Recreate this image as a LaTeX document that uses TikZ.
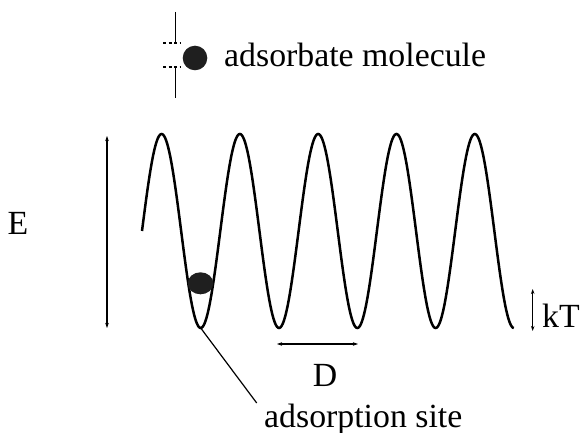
\documentclass[tikz,border=0pt]{standalone}
\usepackage{fontspec}
\setmainfont{Liberation Serif}
\usetikzlibrary{arrows.meta}
\begin{document}
\begin{tikzpicture}[x=1pt,y=-1pt,
  lbl/.style={font=\fontsize{33.8}{38}\selectfont, inner sep=0pt},
  dim/.style={line width=1.2pt, {Stealth[length=5pt,width=3.5pt]}-{Stealth[length=5pt,width=3.5pt]}},
  wave/.style={line width=2.5pt},
  ball/.style={fill=black!88}]
\useasboundingbox (0,0) rectangle (582,433);
% legend symbol
\coordinate (ut) at (175.7,12);
\coordinate (ub) at (175.7,43);
\coordinate (lt) at (175.7,67);
\coordinate (lb) at (175.7,98);
\draw[line width=1.2pt] (ut) -- (ub);
\draw[line width=1.2pt] (lt) -- (lb);
\draw[line width=1.2pt, dash pattern=on 3pt off 2.5pt] (163,43) -- (181,43);
\draw[line width=1.2pt, dash pattern=on 3pt off 2.5pt] (163,67) -- (181,67);
\fill[ball] (195,58) circle (12.3);
\node[lbl, anchor=base west] (mol) at (224,66.7) {adsorbate molecule};
% potential
\draw[wave] plot[domain=0:4.75, samples=400, smooth] ({142+78.3*\x}, {231 - 97*sin(360*\x)});
\fill[ball] (200.5,283.3) ellipse (12.8 and 11);
% site leader
\coordinate (trough) at (200.7,328);
\node[lbl, anchor=base west] (site) at (264,427) {adsorption site};
\coordinate (leadend) at (256.7,403);
\draw[line width=1.2pt] (trough) -- (leadend);
% E
\coordinate (Et) at (107,136);
\coordinate (Eb) at (107,328);
\draw[dim] (Et) -- (Eb);
\node[lbl, anchor=base east] (E) at (28.5,235) {E};
% D
\coordinate (Dl) at (277,344);
\coordinate (Dr) at (358,344);
\draw[dim] (Dl) -- (Dr);
\node[lbl, anchor=base] (D) at (325,387) {D};
% kT
\coordinate (kt) at (532.7,289);
\coordinate (kb) at (532.7,331);
\draw[dim] (kt) -- (kb);
\node[lbl, anchor=base west] (kT) at (542,327) {kT};
\end{tikzpicture}
\end{document}
